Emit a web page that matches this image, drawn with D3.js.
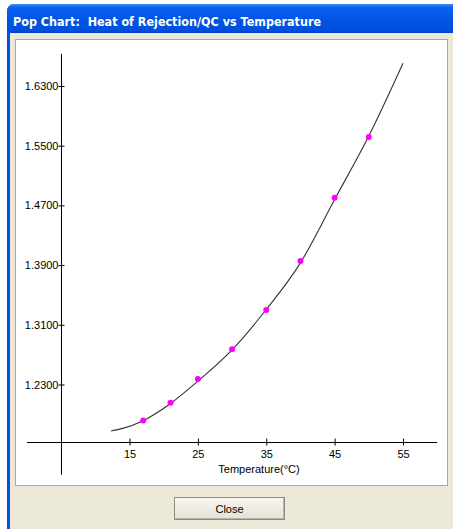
<!DOCTYPE html>
<html>
<head>
<meta charset="utf-8">
<script src="https://cdn.jsdelivr.net/npm/d3@7"></script>
<style>
  body { margin: 0; background: #fff; }
  text { font-family: "Liberation Sans", Arial, sans-serif; }
</style>
</head>
<body>
<svg width="453" height="529"></svg>
<script>
var titleText = "Pop Chart:\u00A0 Heat of Rejection/QC vs Temperature";
var xTitle = "Temperature(\u00B0C)";
var xTicks = [15, 25, 35, 45, 55];
var yTicks = [1.23, 1.31, 1.39, 1.47, 1.55, 1.63];
var pointTemp = [17, 21, 25, 30, 35, 40, 45, 50];
var pointValue = [1.1816, 1.2057, 1.2374, 1.2771, 1.3297, 1.3956, 1.4804, 1.5615];
var curveTemp = [12.3, 14, 17, 21, 25, 30, 35, 40, 45, 50, 55];
var curveValue = [1.1678, 1.1712, 1.1815, 1.2045, 1.2345, 1.2765, 1.3305, 1.393, 1.478, 1.563, 1.6605];

var svg = d3.select("svg");

// window frame
var defs = svg.append("defs");
var grad = defs.append("linearGradient").attr("id", "tb")
	.attr("x1", 0).attr("y1", 0).attr("x2", 0).attr("y2", 1);
grad.append("stop").attr("offset", "0%").attr("stop-color", "#3d8bff");
grad.append("stop").attr("offset", "12%").attr("stop-color", "#0a62f0");
grad.append("stop").attr("offset", "50%").attr("stop-color", "#0055e5");
grad.append("stop").attr("offset", "88%").attr("stop-color", "#0050dc");
grad.append("stop").attr("offset", "100%").attr("stop-color", "#0040c4");
var bgrad = defs.append("linearGradient").attr("id", "btn")
	.attr("x1", 0).attr("y1", 0).attr("x2", 0).attr("y2", 1);
bgrad.append("stop").attr("offset", "0%").attr("stop-color", "#f7f6f1");
bgrad.append("stop").attr("offset", "100%").attr("stop-color", "#e4e1d4");

svg.append("rect").attr("x", 7).attr("y", 4).attr("width", 480).attr("height", 560)
	.attr("rx", 7).attr("fill", "#0055e5");
svg.append("rect").attr("x", 7).attr("y", 4).attr("width", 480).attr("height", 30)
	.attr("rx", 7).attr("fill", "url(#tb)");
svg.append("rect").attr("x", 10).attr("y", 33).attr("width", 460).attr("height", 520)
	.attr("fill", "#ece9d8");
svg.append("text").text(titleText)
	.attr("x", 13).attr("y", 26)
	.attr("textLength", 308).attr("lengthAdjust", "spacingAndGlyphs")
	.style("font-family", "'DejaVu Sans', sans-serif")
	.style("font-weight", "bold").style("font-size", "13px")
	.attr("fill", "#fff");

// chart panel
svg.append("rect").attr("x", 15.5).attr("y", 39.5).attr("width", 432).attr("height", 446)
	.attr("fill", "#fff").attr("stroke", "#aca899");

// close button
svg.append("rect").attr("x", 174.5).attr("y", 497.5).attr("width", 110).attr("height", 22)
	.attr("fill", "url(#btn)").attr("stroke", "#8e8b7e");
svg.append("path").attr("d", "M175.5,518.5H283.5V498.5")
	.attr("fill", "none").attr("stroke", "#b9b5a5");
svg.append("text").text("Close").attr("x", 229.5).attr("y", 513)
	.attr("text-anchor", "middle").style("font-size", "11px").attr("fill", "#000");

var x = d3.scaleLinear().domain([15, 55]).range([129.5, 403]);
var y = d3.scaleLinear().domain([1.23, 1.63]).range([384.5, 86]);

var g = svg.append("g");

// axis lines
g.append("line")
	.attr("x1", x(0)).attr("x2", x(60))
	.attr("y1", Math.round(y(1.153)) + 0.5).attr("y2", Math.round(y(1.153)) + 0.5)
	.attr("stroke", "#000");
g.append("line")
	.attr("x1", Math.round(x(5)) + 0.5).attr("x2", Math.round(x(5)) + 0.5)
	.attr("y1", y(1.673)).attr("y2", y(1.109))
	.attr("stroke", "#000");

var xAxis = g.append("g")
	.attr("transform", "translate(0," + (Math.round(y(1.153)) + 0.5) + ")")
	.call(d3.axisBottom(x).tickValues(xTicks).tickSize(3).tickPadding(5).tickFormat(d3.format("d")));
xAxis.select(".domain").remove();
xAxis.selectAll(".tick line").attr("y1", -4).attr("y2", 3).attr("stroke", "#000");
xAxis.selectAll("text").style("font-size", "11px").style("font-family", "'Liberation Sans', Arial, sans-serif").attr("fill", "#000");

var yAxis = g.append("g")
	.attr("transform", "translate(" + (Math.round(x(5)) + 0.5) + ",0)")
	.call(d3.axisLeft(y).tickValues(yTicks).tickSize(3).tickPadding(0).tickFormat(d3.format(".4f")));
yAxis.select(".domain").remove();
yAxis.selectAll(".tick line").attr("x1", -3).attr("x2", 3).attr("stroke", "#000");
yAxis.selectAll("text").style("font-size", "11px").style("font-family", "'Liberation Sans', Arial, sans-serif").attr("fill", "#000");

svg.append("text").text(xTitle)
	.attr("x", 259).attr("y", 473)
	.attr("text-anchor", "middle")
	.style("font-size", "11px").attr("fill", "#000");

// fitted curve
var line = d3.line()
	.x(function(d, i){ return x(curveTemp[i]); })
	.y(function(d, i){ return y(curveValue[i]); })
	.curve(d3.curveMonotoneX);
svg.append("path")
	.attr("d", line(curveTemp))
	.attr("fill", "none")
	.attr("stroke", "#333")
	.attr("stroke-width", 1.1);

// measured points
svg.selectAll("circle")
	.data(pointTemp)
	.enter()
	.append("circle")
	.attr("cx", function(d){ return x(d); })
	.attr("cy", function(d, i){ return y(pointValue[i]); })
	.attr("r", 3)
	.attr("fill", "#ff00ff");
</script>
</body>
</html>
